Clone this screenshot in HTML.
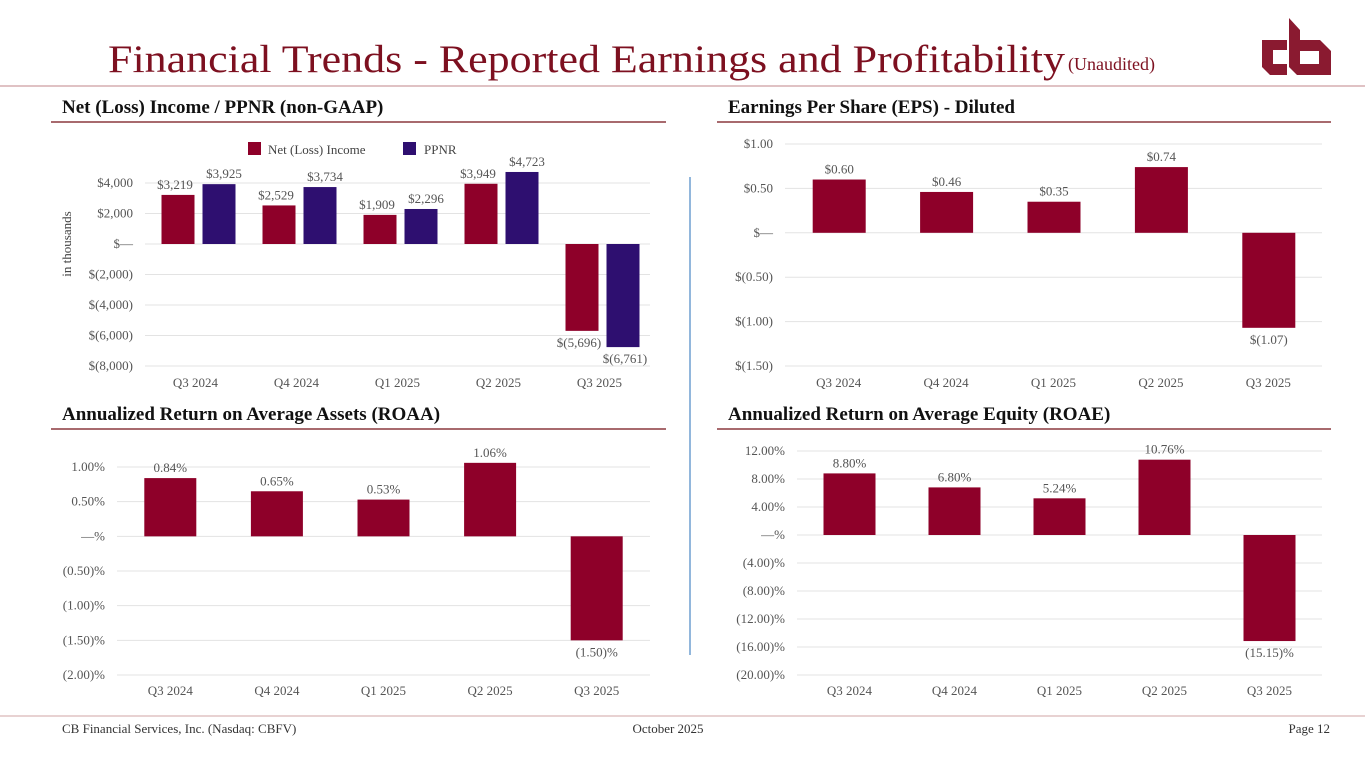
<!DOCTYPE html>
<html><head><meta charset="utf-8"><style>
html,body{margin:0;padding:0;background:#fff;}
svg{display:block;font-family:"Liberation Serif",serif;}
</style></head><body>
<svg id="page" width="1365" height="768" viewBox="0 0 1365 768" xmlns="http://www.w3.org/2000/svg">
<text x="108" y="72" font-size="39" fill="#7d1020" textLength="957" lengthAdjust="spacingAndGlyphs">Financial Trends - Reported Earnings and Profitability</text>
<text x="1068" y="70" font-size="18" fill="#7d1020">(Unaudited)</text>
<g fill="#8a1a30">
<path fill-rule="evenodd" d="M1262,40 L1287,40 L1287,50 L1273,50 L1273,64 L1287,64 L1287,75 L1270,75 L1262,67 Z"/>
<path fill-rule="evenodd" d="M1289,18 L1300,30 L1300,40 L1320,40 L1331,51 L1331,75 L1300,75 L1300,64 L1319,64 L1319,51 L1300,51 L1300,75 L1297,75 L1289,67 Z"/>
</g>
<line x1="0" y1="86" x2="1365" y2="86" stroke="#d6aeb0" stroke-width="1.5"/>
<g font-weight="bold" font-size="19" fill="#111">
<text x="62" y="113">Net (Loss) Income / PPNR (non-GAAP)</text>
<text x="728" y="113">Earnings Per Share (EPS) - Diluted</text>
<text x="62" y="420">Annualized Return on Average Assets (ROAA)</text>
<text x="728" y="420">Annualized Return on Average Equity (ROAE)</text>
</g>
<g stroke="#a86a6e" stroke-width="2">
<line x1="51" y1="122" x2="666" y2="122"/>
<line x1="717" y1="122" x2="1331" y2="122"/>
<line x1="51" y1="429" x2="666" y2="429"/>
<line x1="717" y1="429" x2="1331" y2="429"/>
</g>
<line x1="690" y1="177" x2="690" y2="655" stroke="#6f9fd0" stroke-width="1.5"/>
<line x1="0" y1="716" x2="1365" y2="716" stroke="#e0c4c4" stroke-width="1.5"/>
<g font-size="13" fill="#333">
<text x="62" y="733">CB Financial Services, Inc. (Nasdaq: CBFV)</text>
<text x="668" y="733" text-anchor="middle">October 2025</text>
<text x="1330" y="733" text-anchor="end">Page 12</text>
</g>
<text transform="translate(71,244) rotate(-90)" font-size="13" fill="#444" text-anchor="middle">in thousands</text>
<g font-size="13" fill="#444">
<rect x="248" y="142" width="13" height="13" fill="#8e0029"/>
<text x="268" y="154">Net (Loss) Income</text>
<rect x="403" y="142" width="13" height="13" fill="#2e0f70"/>
<text x="424" y="154">PPNR</text>
</g>
<g id="charts"></g>
</svg>
<script>
const categories = ["Q3 2024","Q4 2024","Q1 2025","Q2 2025","Q3 2025"];
const netIncome = [3219,2529,1909,3949,-5696];
const ppnr = [3925,3734,2296,4723,-6761];
const netIncomeLabels = ["$3,219","$2,529","$1,909","$3,949","$(5,696)"];
const ppnrLabels = ["$3,925","$3,734","$2,296","$4,723","$(6,761)"];
const incomeTicks = [4000,2000,0,-2000,-4000,-6000,-8000];
const incomeTickLabels = ["$4,000","$2,000","$—","$(2,000)","$(4,000)","$(6,000)","$(8,000)"];
const eps = [0.60,0.46,0.35,0.74,-1.07];
const epsLabels = ["$0.60","$0.46","$0.35","$0.74","$(1.07)"];
const epsTicks = [1,0.5,0,-0.5,-1,-1.5];
const epsTickLabels = ["$1.00","$0.50","$—","$(0.50)","$(1.00)","$(1.50)"];
const roaa = [0.84,0.65,0.53,1.06,-1.50];
const roaaLabels = ["0.84%","0.65%","0.53%","1.06%","(1.50)%"];
const roaaTicks = [1,0.5,0,-0.5,-1,-1.5,-2];
const roaaTickLabels = ["1.00%","0.50%","—%","(0.50)%","(1.00)%","(1.50)%","(2.00)%"];
const roae = [8.80,6.80,5.24,10.76,-15.15];
const roaeLabels = ["8.80%","6.80%","5.24%","10.76%","(15.15)%"];
const roaeTicks = [12,8,4,0,-4,-8,-12,-16,-20];
const roaeTickLabels = ["12.00%","8.00%","4.00%","—%","(4.00)%","(8.00)%","(12.00)%","(16.00)%","(20.00)%"];

const NS="http://www.w3.org/2000/svg";
const root=document.getElementById('charts');
function mk(tag,attrs,parent){const e=document.createElementNS(NS,tag);for(const k in attrs)e.setAttribute(k,attrs[k]);(parent||root).appendChild(e);return e;}
function txt(s,x,y,anchor,parent){const t=mk('text',{x:x,y:y,'font-size':13,fill:'#555','text-anchor':anchor||'middle'},parent);t.textContent=s;return t;}

function chart(cfg){
  const g=mk('g',{});
  
  
  const max=cfg.ticks[0],min=cfg.ticks[cfg.ticks.length-1];
  const y=v=>cfg.top+(max-v)/(max-min)*(cfg.bottom-cfg.top);
  const band=(cfg.right-cfg.left)/categories.length;
  const cx=i=>cfg.left+band*(i+0.5);
  cfg.ticks.forEach((t,i)=>{
    const l=mk('line',{x1:cfg.left,x2:cfg.right,y1:y(t),y2:y(t),stroke:'#e3e3e3','stroke-width':1},g);
    
    
    const tl=txt(cfg.tickLabels[i],cfg.left-12,y(t)+4,'end',g);
    
    
  });
  categories.forEach((c,i)=>{
    const t=txt(c,cx(i),cfg.catY,'middle',g);
    
    
  });
  cfg.series.forEach(s=>{
    s.values.forEach((v,i)=>{
      const x=cx(i)+s.offset;
      const y0=y(0),y1=y(v);
      const r=mk('rect',{x:x,y:Math.min(y0,y1),width:s.width,height:Math.abs(y1-y0),fill:s.color},g);
      
      
      const ly=v>=0?y1-6:y1+16;
      const lt=txt(s.labels[i],x+s.width/2+(s.labelDx?s.labelDx(i,v):0),ly,'middle',g);
      
      
    });
  });
}
chart({name:'net-income-ppnr-chart',left:145,right:650,top:183,bottom:366,catY:387,ticks:incomeTicks,tickLabels:incomeTickLabels,
  series:[{key:'net-income',values:netIncome,labels:netIncomeLabels,color:'#8e0029',offset:-34,width:33,labelDx:(i,v)=>-3},
          {key:'ppnr',values:ppnr,labels:ppnrLabels,color:'#2e0f70',offset:7,width:33,labelDx:(i,v)=>v>=0?5:2}]});
chart({name:'eps-chart',left:785,right:1322,top:144,bottom:366,catY:387,ticks:epsTicks,tickLabels:epsTickLabels,
  series:[{key:'eps',values:eps,labels:epsLabels,color:'#8e0029',offset:-26,width:53}]});
chart({name:'roaa-chart',left:117,right:650,top:467,bottom:675,catY:695,ticks:roaaTicks,tickLabels:roaaTickLabels,
  series:[{key:'roaa',values:roaa,labels:roaaLabels,color:'#8e0029',offset:-26,width:52}]});
chart({name:'roae-chart',left:797,right:1322,top:451,bottom:675,catY:695,ticks:roaeTicks,tickLabels:roaeTickLabels,
  series:[{key:'roae',values:roae,labels:roaeLabels,color:'#8e0029',offset:-26,width:52}]});
</script>
</body></html>
